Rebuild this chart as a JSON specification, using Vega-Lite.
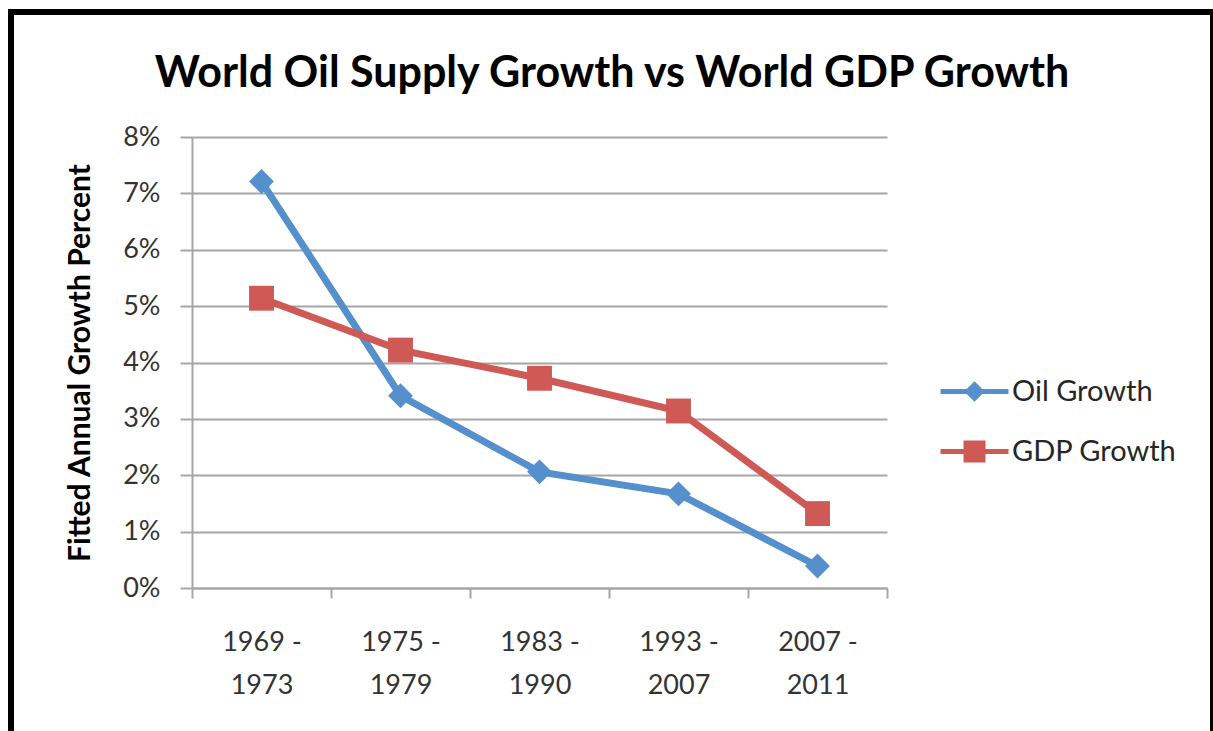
{
  "$schema": "https://vega.github.io/schema/vega-lite/v6.json",
  "autosize": {"type": "none"},
  "width": 1202,
  "height": 719,
  "padding": {"left": 11, "top": 12, "right": 0, "bottom": 0},
  "background": "white",
  "config": {
    "view": {"stroke": "black", "strokeWidth": 6, "strokeDash": [1921, 1202, 719], "strokeCap": "square", "fill": "white"},
    "font": "Lato"
  },
  "title": {
    "text": "World Oil Supply Growth vs World GDP Growth",
    "font": "Lato",
    "fontSize": 43,
    "fontWeight": "bold",
    "color": "black",
    "anchor": "middle",
    "frame": "group",
    "orient": "top",
    "offset": -118,
    "baseline": "alphabetic"
  },
  "data": {
    "values": [
      {"period": "1969 - 1973", "series": "Oil Growth", "growth": 0.0721},
      {"period": "1975 - 1979", "series": "Oil Growth", "growth": 0.0341},
      {"period": "1983 - 1990", "series": "Oil Growth", "growth": 0.0206},
      {"period": "1993 - 2007", "series": "Oil Growth", "growth": 0.0167},
      {"period": "2007 - 2011", "series": "Oil Growth", "growth": 0.0039},
      {"period": "1969 - 1973", "series": "GDP Growth", "growth": 0.0514},
      {"period": "1975 - 1979", "series": "GDP Growth", "growth": 0.0422},
      {"period": "1983 - 1990", "series": "GDP Growth", "growth": 0.0372},
      {"period": "1993 - 2007", "series": "GDP Growth", "growth": 0.0314},
      {"period": "2007 - 2011", "series": "GDP Growth", "growth": 0.0132}
    ]
  },
  "encoding": {
    "x": {
      "field": "period",
      "type": "nominal",
      "sort": null,
      "scale": {"type": "band", "range": [181, 876], "paddingInner": 0, "paddingOuter": 0},
      "axis": {
        "title": null,
        "orient": "bottom",
        "offset": -143,
        "grid": false,
        "domainColor": "#a6a6a6",
        "domainWidth": 2,
        "tickColor": "#a6a6a6",
        "tickWidth": 2,
        "tickSize": 10,
        "tickBand": "extent",
        "labelFont": "Lato",
        "labelFontSize": 27,
        "labelColor": "#333333",
        "labelPadding": 31,
        "labelLineHeight": 43,
        "labelBaseline": "top",
        "labelAngle": 0,
        "labelExpr": "[substring(datum.label, 0, 6), substring(datum.label, 7)]"
      }
    },
    "y": {
      "field": "growth",
      "type": "quantitative",
      "scale": {"domain": [0, 0.08], "range": [576, 125], "nice": false},
      "axis": {
        "title": "Fitted Annual Growth Percent",
        "orient": "left",
        "offset": -181,
        "values": [0, 0.01, 0.02, 0.03, 0.04, 0.05, 0.06, 0.07, 0.08],
        "format": ".0%",
        "grid": true,
        "gridColor": "#a6a6a6",
        "gridWidth": 2,
        "domainColor": "#a6a6a6",
        "domainWidth": 2,
        "tickColor": "#a6a6a6",
        "tickWidth": 2,
        "tickSize": 12,
        "labelFont": "Lato",
        "labelFontSize": 27,
        "labelColor": "#333333",
        "labelPadding": 20,
        "titleFont": "Lato",
        "titleFontSize": 30,
        "titleFontWeight": "bold",
        "titleColor": "black",
        "titlePadding": 27
      }
    },
    "color": {
      "field": "series",
      "type": "nominal",
      "sort": ["Oil Growth", "GDP Growth"],
      "scale": {"domain": ["Oil Growth", "GDP Growth"], "range": ["#5590CD", "#CF5A55"]},
      "legend": {
        "title": null,
        "orient": "none",
        "legendX": 927,
        "legendY": 343,
        "padding": 0,
        "labelFont": "Lato",
        "labelFontSize": 29,
        "labelColor": "#262626",
        "labelLimit": 400,
        "symbolSize": 4624,
        "symbolStrokeWidth": 5,
        "symbolOpacity": 1,
        "labelOffset": 1,
        "rowPadding": 6,
        "encode": {
          "symbols": {
            "update": {
              "shape": {"signal": "datum.value === 'Oil Growth' ? 'M-1,0H1M0,-0.2L0.2,0L0,0.2L-0.2,0Z' : 'M-1,0H1M-0.25,-0.25H0.25V0.25H-0.25Z'"},
              "fill": {"scale": "color", "field": "value"},
              "stroke": {"scale": "color", "field": "value"},
              "strokeWidth": {"value": 5},
              "opacity": {"value": 1}
            }
          }
        }
      }
    }
  },
  "layer": [
    {"mark": {"type": "line", "strokeWidth": 7}},
    {
      "transform": [{"filter": "datum.series === 'Oil Growth'"}],
      "mark": {"type": "point", "filled": true, "opacity": 1, "size": 620, "shape": "diamond"}
    },
    {
      "transform": [{"filter": "datum.series === 'GDP Growth'"}],
      "mark": {"type": "point", "filled": true, "opacity": 1, "size": 620, "shape": "square"}
    }
  ]
}
